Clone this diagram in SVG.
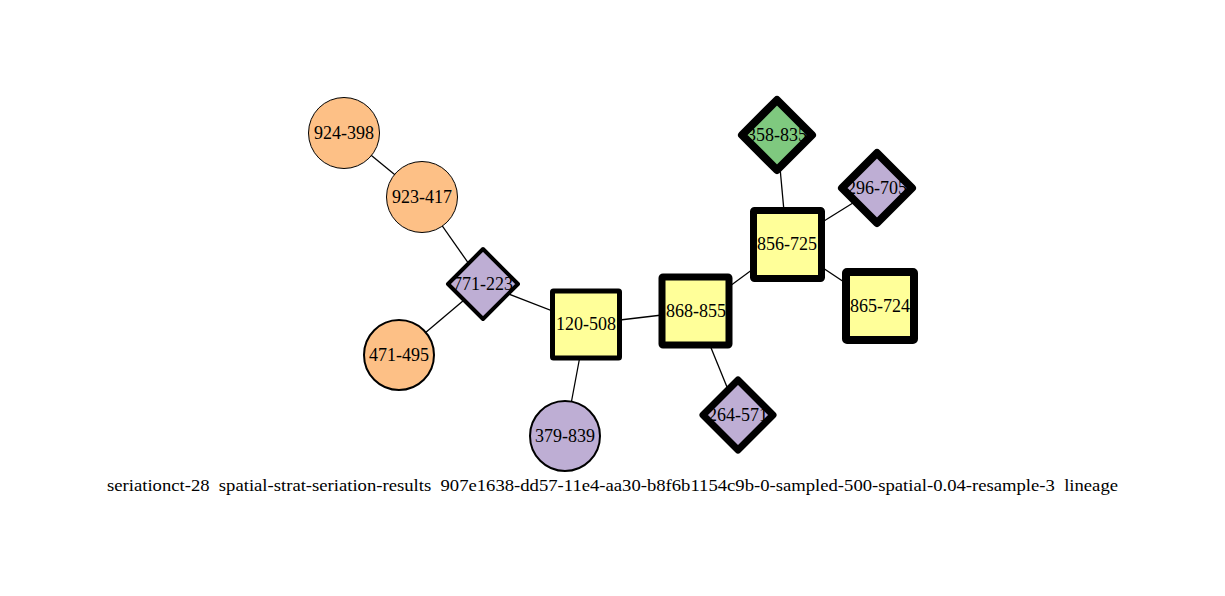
<svg xmlns="http://www.w3.org/2000/svg" width="1225" height="596" viewBox="0 0 1225 596">
<style>
.e{stroke:#000;stroke-width:1.3;fill:none}
.lbl{font-family:"Liberation Serif","Times New Roman",serif;font-size:18px;text-anchor:middle;fill:#000}
.or{fill:#fdc086;stroke:#000}
.pu{fill:#beaed4;stroke:#000}
.ye{fill:#ffff99;stroke:#000}
.gr{fill:#7fc97f;stroke:#000}
</style>
<rect width="1225" height="596" fill="#fff"/>
<g id="edges">
<line class="e" x1="344" y1="133" x2="422" y2="197"/>
<line class="e" x1="422" y1="197" x2="483" y2="284"/>
<line class="e" x1="483" y1="284" x2="399" y2="355"/>
<line class="e" x1="483" y1="284" x2="586" y2="324"/>
<line class="e" x1="586" y1="324" x2="565" y2="436"/>
<line class="e" x1="586" y1="324" x2="696" y2="311"/>
<line class="e" x1="696" y1="311" x2="787" y2="244"/>
<line class="e" x1="696" y1="311" x2="738" y2="414"/>
<line class="e" x1="787" y1="244" x2="777" y2="135"/>
<line class="e" x1="787" y1="244" x2="877" y2="188"/>
<line class="e" x1="787" y1="244" x2="880" y2="306"/>
</g>
<g id="n924-398"><circle class="or" cx="344" cy="133" r="35.5" stroke-width="1"/><text class="lbl" x="344" y="139">924-398</text></g>
<g id="n923-417"><circle class="or" cx="422" cy="197" r="35.5" stroke-width="1"/><text class="lbl" x="422" y="203">923-417</text></g>
<g id="n471-495"><circle class="or" cx="399" cy="355" r="35" stroke-width="2"/><text class="lbl" x="399" y="361">471-495</text></g>
<g id="n379-839"><circle class="pu" cx="565" cy="436" r="35" stroke-width="2"/><text class="lbl" x="565" y="442">379-839</text></g>
<g id="n771-223"><polygon class="pu" points="483,249 518,284 483,319 448,284" stroke-width="4" stroke-linejoin="round"/><text class="lbl" x="483" y="290">771-223</text></g>
<g id="n120-508"><rect class="ye" x="552.5" y="291" width="67" height="67" stroke-width="5" rx="1"/><text class="lbl" x="586" y="330">120-508</text></g>
<g id="n868-855"><rect class="ye" x="662" y="277" width="67" height="68" stroke-width="7" rx="1"/><text class="lbl" x="696" y="317">868-855</text></g>
<g id="n856-725"><rect class="ye" x="753.5" y="210.5" width="68" height="68" stroke-width="7" rx="1"/><text class="lbl" x="787" y="250">856-725</text></g>
<g id="n865-724"><rect class="ye" x="846" y="272" width="68" height="68" stroke-width="8" rx="1"/><text class="lbl" x="880" y="312">865-724</text></g>
<g id="n358-835"><polygon class="gr" points="777,100 812,135 777,170 742,135" stroke-width="8" stroke-linejoin="round"/><text class="lbl" x="777" y="141">358-835</text></g>
<g id="n296-705"><polygon class="pu" points="877,153 912,188 877,223 842,188" stroke-width="8" stroke-linejoin="round"/><text class="lbl" x="877" y="194">296-705</text></g>
<g id="n264-571"><polygon class="pu" points="738,380 773,415 738,450 703,415" stroke-width="7" stroke-linejoin="round"/><text class="lbl" x="738" y="421">264-571</text></g>
<text x="612.5" y="491" style="white-space:pre" font-family="Liberation Serif, Times New Roman, serif" font-size="16" text-anchor="middle" textLength="1011" lengthAdjust="spacingAndGlyphs">seriationct-28  spatial-strat-seriation-results  907e1638-dd57-11e4-aa30-b8f6b1154c9b-0-sampled-500-spatial-0.04-resample-3  lineage</text>
</svg>
